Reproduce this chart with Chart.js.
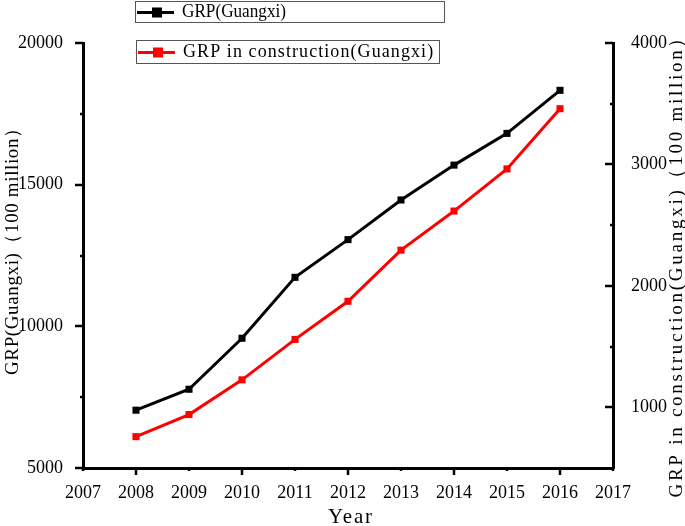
<!DOCTYPE html>
<html lang="en">
<head>
  <meta charset="UTF-8">
  <title>GRP Guangxi</title>
  <script src="https://cdn.jsdelivr.net/npm/chart.js"></script>
  <style>
    body { margin: 0; background: #fff; }
    #wrap { width: 685px; height: 526px; position: relative; }
  </style>
</head>
<body>
  <div id="wrap"><canvas id="grpChart"></canvas></div>

  <script>
    // data
    const years = [2008, 2009, 2010, 2011, 2012, 2013, 2014, 2015, 2016];
    const grp = [7040, 7780, 9580, 11730, 13060, 14460, 15690, 16810, 18330];
    const grpConstruction = [758, 940, 1226, 1559, 1873, 2294, 2616, 2963, 3459];
    const leftTicks = [5000, 10000, 15000, 20000];
    const rightTicks = [1000, 2000, 3000, 4000];
    const xTicks = [2007, 2008, 2009, 2010, 2011, 2012, 2013, 2014, 2015, 2016, 2017];

    const FONT = '"Liberation Serif", "DejaVu Serif", serif';

    function pts(vals) {
      return years.map((y, i) => ({ x: y, y: vals[i] }));
    }

    // draw text spread out to a given width (the original uses a wide-spaced font)
    function fitText(ctx, text, cx, cy, w) {
      ctx.save();
      ctx.textAlign = 'left';
      ctx.textBaseline = 'middle';
      const m = ctx.measureText(text).width;
      if ('letterSpacing' in ctx && w > m) {
        const sp = (w - m) / (text.length - 1);
        ctx.letterSpacing = sp.toFixed(2) + 'px';
        ctx.fillText(text, cx - w / 2, cy);
      } else {
        ctx.translate(cx - w / 2, cy);
        ctx.scale(w / m, 1);
        ctx.fillText(text, 0, 0);
      }
      ctx.restore();
    }

    function tick(ctx, x1, y1, x2, y2) {
      ctx.beginPath();
      ctx.moveTo(x1, y1);
      ctx.lineTo(x2, y2);
      ctx.stroke();
    }

    // tick marks, axis titles and the two legend boxes
    const decor = {
      id: 'decor',
      afterDraw(chart) {
        const ctx = chart.ctx;
        const x = chart.scales.x, yl = chart.scales.y, yr = chart.scales.y1;
        const ca = chart.chartArea;
        ctx.save();
        ctx.strokeStyle = '#000';
        ctx.lineWidth = 2.5;

        // left axis, ticks pointing out
        for (let v = 5000; v <= 20000; v += 2500) {
          const py = Math.round(yl.getPixelForValue(v));
          tick(ctx, ca.left, py, ca.left - (v % 5000 === 0 ? 8 : 3), py);
        }
        // right axis, ticks pointing in
        for (let v = 1000; v <= 4000; v += 500) {
          const py = Math.round(yr.getPixelForValue(v));
          tick(ctx, ca.right, py, ca.right - (v % 1000 === 0 ? 8 : 3), py);
        }
        // bottom axis
        xTicks.forEach(v => {
          const px = Math.round(x.getPixelForValue(v));
          const long = v % 2 === 0;
          tick(ctx, px, ca.bottom, px, ca.bottom + (long ? 7 : 3));
        });

        // axis titles
        ctx.fillStyle = '#000';
        ctx.font = '21px ' + FONT;
        fitText(ctx, 'Year', 350, 517, 44);

        ctx.font = '19px ' + FONT;
        ctx.save();
        ctx.translate(13, 247);
        ctx.rotate(-Math.PI / 2);
        fitText(ctx, 'GRP(Guangxi)\uFF08100 million\uFF09', 0, 0, 256);
        ctx.restore();

        ctx.save();
        ctx.translate(677, 263);
        ctx.rotate(-Math.PI / 2);
        fitText(ctx, 'GRP in construction(Guangxi)\uFF08100 million\uFF09', 0, 0, 469);
        ctx.restore();

        // legend boxes
        const boxes = [
          { ds: 0, x: 135, y: 1, w: 309, h: 21, tw: 104 },
          { ds: 1, x: 136, y: 40, w: 303, h: 23, tw: 250 }
        ];
        boxes.forEach(b => {
          const ds = chart.data.datasets[b.ds];
          ctx.lineWidth = 1;
          ctx.strokeStyle = '#555';
          ctx.strokeRect(b.x + 0.5, b.y + 0.5, b.w, b.h);
          const cy = b.y + Math.round(b.h / 2) + 0.5;
          ctx.strokeStyle = ds.borderColor;
          ctx.lineWidth = 3;
          tick(ctx, b.x + 2, cy, b.x + 39, cy);
          ctx.fillStyle = ds.borderColor;
          ctx.fillRect(b.x + 17, cy - 5, 10, 10);
          ctx.fillStyle = '#000';
          ctx.font = '18px ' + FONT;
          fitText(ctx, ds.label, b.x + 47 + b.tw / 2, cy, b.tw);
        });
        ctx.restore();
      }
    };

    new Chart(document.getElementById('grpChart'), {
      type: 'line',
      data: {
        datasets: [
          {
            label: 'GRP(Guangxi)',
            data: pts(grp),
            yAxisID: 'y',
            borderColor: '#000',
            backgroundColor: '#000',
            borderWidth: 3,
            pointStyle: 'rect',
            pointRadius: 5,
            pointBorderWidth: 0,
            tension: 0
          },
          {
            label: 'GRP in construction(Guangxi)',
            data: pts(grpConstruction),
            yAxisID: 'y1',
            borderColor: '#ff0000',
            backgroundColor: '#ff0000',
            borderWidth: 3,
            pointStyle: 'rect',
            pointRadius: 5,
            pointBorderWidth: 0,
            tension: 0
          }
        ]
      },
      options: {
        responsive: true,
        maintainAspectRatio: false,
        animation: false,
        layout: { padding: { top: 43, left: 0, right: 0, bottom: 0 } },
        plugins: {
          legend: { display: false },
          tooltip: { enabled: false }
        },
        scales: {
          x: {
            type: 'linear',
            min: 2007,
            max: 2017,
            afterBuildTicks: s => { s.ticks = xTicks.map(v => ({ value: v })); },
            afterFit: s => { s.height = 58; },
            grid: { display: false },
            border: { display: true, color: '#000', width: 3 },
            ticks: {
              color: '#000',
              padding: 6,
              maxRotation: 0,
              autoSkip: false,
              font: { family: FONT, size: 18 },
              callback: v => String(v)
            }
          },
          y: {
            position: 'left',
            min: 5000,
            max: 20000,
            afterBuildTicks: s => { s.ticks = leftTicks.map(v => ({ value: v })); },
            afterFit: s => { s.width = 83; },
            grid: { display: false },
            border: { display: true, color: '#000', width: 3 },
            ticks: {
              color: '#000',
              padding: 12,
              font: { family: FONT, size: 18 },
              callback: v => String(v)
            }
          },
          y1: {
            position: 'right',
            min: 500,
            max: 4000,
            afterBuildTicks: s => { s.ticks = rightTicks.map(v => ({ value: v })); },
            afterFit: s => { s.width = 72; },
            grid: { display: false },
            border: { display: true, color: '#000', width: 3 },
            ticks: {
              color: '#000',
              padding: 10,
              font: { family: FONT, size: 18 },
              callback: v => String(v)
            }
          }
        }
      },
      plugins: [decor]
    });
  </script>
</body>
</html>
